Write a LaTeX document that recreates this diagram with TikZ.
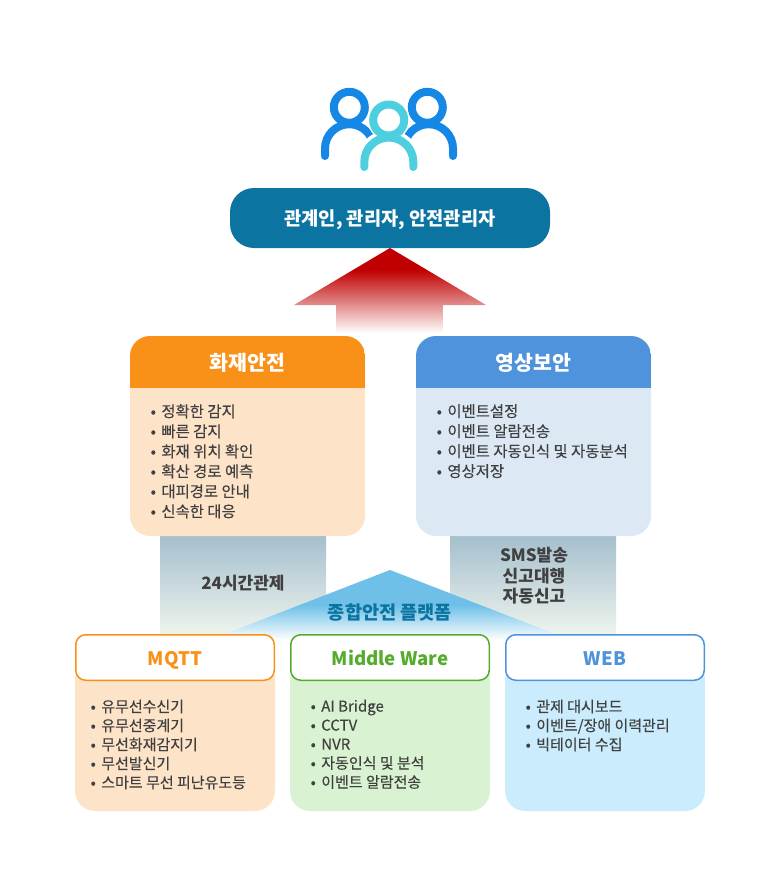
\documentclass[tikz,border=0pt]{standalone}
\usepackage{fontspec}
\setmainfont{Noto Sans CJK KR}
\newfontfamily\medfont[FakeBold=0.25]{Noto Sans CJK KR}
\usetikzlibrary{calc}
\definecolor{ink}{HTML}{404040}
\definecolor{blueA}{HTML}{1488E4}
\definecolor{cyanA}{HTML}{4DCFE0}
\definecolor{teal}{HTML}{0B74A0}
\definecolor{orangeH}{HTML}{F99119}
\definecolor{blueH}{HTML}{4E93DB}
\definecolor{greenH}{HTML}{55AB2B}
\definecolor{peach}{HTML}{FDE3C8}
\definecolor{pale}{HTML}{DCE9F5}
\definecolor{mint}{HTML}{D9F2D2}
\definecolor{sky}{HTML}{CBECFD}
\definecolor{redTop}{HTML}{C00000}
\definecolor{greyTop}{HTML}{A5BFCD}
\definecolor{greyEnd}{HTML}{EFF5EE}
\definecolor{skyTop}{HTML}{6EC0E8}
\pgfdeclareverticalshading{greyup}{100bp}{color(0bp)=(greyEnd);color(25bp)=(greyEnd);color(75bp)=(greyTop);color(100bp)=(greyTop)}
\tikzset{
  listtext/.style={font=\fontsize{15.4}{20}\selectfont\medfont,text=ink,anchor=north west,align=left,inner sep=0pt},
  listtight/.style={listtext,font=\fontsize{15}{19}\selectfont\medfont},
  headtext/.style={font=\fontsize{20.5}{24}\selectfont\bfseries,text=white},
  subhead/.style={font=\fontsize{18.6}{22}\selectfont\bfseries,anchor=base,inner sep=0pt},
  linktext/.style={font=\fontsize{17}{20.5}\selectfont\bfseries,text=ink,align=center},
  tabbox/.style={fill=white,draw=#1,line width=1.5pt,rounded corners=10pt,minimum width=198.5pt,minimum height=45.5pt,inner sep=0pt},
  personA/.style={blueA,line width=8pt,line cap=round},
  personB/.style={cyanA,line width=8pt,line cap=round}
}
\newcommand{\li}[1]{\textbullet\hspace{5.5pt}#1}
\begin{document}
\begin{tikzpicture}[x=1pt,y=-1pt]
\useasboundingbox (0,0) rectangle (780,870);
% connector bands
\fill[shading=greyup] (160,536) rectangle (326,636);
\fill[shading=greyup] (450,536) rectangle (616,636);
% up arrow: head, fading from dark red
\foreach \yy in {248,...,304}{
  \pgfmathsetmacro{\yb}{min(\yy+1.3,305)}
  \pgfmathsetmacro{\wa}{(\yy-248)*96/57}
  \pgfmathsetmacro{\wb}{(\yb-248)*96/57}
  \pgfmathsetmacro{\pc}{max(0,min(100,(333-\yy)/63*100))}
  \fill[redTop!\pc!white] (390-\wa,\yy) -- (390+\wa,\yy) -- (390+\wb,\yb) -- (390-\wb,\yb) -- cycle;
}
% up arrow: shaft
\foreach \yy in {305,...,333}{
  \pgfmathsetmacro{\pc}{max(0,min(100,(333-\yy)/63*100))}
  \fill[redTop!\pc!white] (336,\yy) rectangle (443,\yy+1.3);
}
% platform triangle
\foreach \yy in {570,...,641}{
  \pgfmathsetmacro{\wa}{(\yy-570)*2.58}
  \pgfmathsetmacro{\wb}{(\yy+1.3-570)*2.58}
  \pgfmathsetmacro{\pc}{max(0,min(100,(640-\yy)/35*100))}
  \fill[skyTop!\pc!white] (390-\wa,\yy) -- (390+\wa,\yy) -- (390+\wb,\yy+1.3) -- (390-\wb,\yy+1.3) -- cycle;
}
% icon
\draw[personA] (325,156) -- (325,148.5) arc[start angle=180,end angle=360,radius=24.3];
\draw[personA] (453,156) -- (453,148.5) arc[start angle=360,end angle=180,radius=24.3];
\draw[personA] (349.3,107.3) circle[radius=15.5];
\draw[personA] (427.3,107.3) circle[radius=15.5];
\fill[white] (388.8,162) circle[radius=32];
\fill[white] (388.7,120) circle[radius=21];
\draw[personB] (388.7,120) circle[radius=15.5];
\draw[personB] (364.3,167) -- (364.3,162) arc[start angle=180,end angle=360,radius=24.5] -- (413.3,167);
% top pill
\node[fill=teal,rounded corners=24pt,minimum width=320pt,minimum height=60pt,inner sep=0pt] (top) at (390,218) {};
\node[font=\fontsize{18.7}{22}\selectfont\bfseries,text=white] (toptext) at (390,219.5) {관계인, 관리자, 안전관리자};
% fire card
\fill[peach,rounded corners=20pt] (130,336) rectangle (365,536);
\begin{scope}
\clip[rounded corners=20pt] (130,336) rectangle (365,536);
\fill[orangeH] (130,336) rectangle (365,388);
\end{scope}
\node[headtext] (fire) at (247.5,363) {화재안전};
\node[listtext] (firelist) at (150.5,404) {\li{정확한 감지}\\\li{빠른 감지}\\\li{화재 위치 확인}\\\li{확산 경로 예측}\\\li{대피경로 안내}\\\li{신속한 대응}};
% video card
\fill[pale,rounded corners=20pt] (416,336) rectangle (651,536);
\begin{scope}
\clip[rounded corners=20pt] (416,336) rectangle (651,536);
\fill[blueH] (416,336) rectangle (651,388);
\end{scope}
\node[headtext] (video) at (533.5,363) {영상보안};
\node[listtext] (videolist) at (436.5,404) {\li{이벤트설정}\\\li{이벤트 알람전송}\\\li{이벤트 자동인식 및 자동분석}\\\li{영상저장}};
% link labels
\node[linktext] (l24) at (243,583) {24시간관제};
\node[linktext] (lsms) at (534,576) {SMS발송\\신고대행\\자동신고};
\node[font=\fontsize{18.6}{22}\selectfont\bfseries,text=teal] (plat) at (390,612) {종합안전 플랫폼};
% bottom cards
\fill[peach,rounded corners=20pt] (75,660) rectangle (275,811);
\fill[mint,rounded corners=20pt] (290,660) rectangle (490,811);
\fill[sky,rounded corners=20pt] (505,660) rectangle (705,811);
\node[tabbox=orangeH] (mqtt) at (175,657.5) {};
\node[tabbox=greenH] (mw) at (390,657.5) {};
\node[tabbox=blueH] (web) at (605,657.5) {};
\node[subhead,text=orangeH] (mqttt) at (175,665) {MQTT};
\node[subhead,text=greenH] (mwt) at (390,665) {Middle Ware};
\node[subhead,text=blueH] (webt) at (605,665) {WEB};
\node[listtight] (l1) at (90.5,699.5) {\li{유무선수신기}\\\li{유무선중계기}\\\li{무선화재감지기}\\\li{무선발신기}\\\li{스마트 무선 피난유도등}};
\node[listtight] (l2) at (310.5,699.5) {\li{AI Bridge}\\\li{CCTV}\\\li{NVR}\\\li{자동인식 및 분석}\\\li{이벤트 알람전송}};
\node[listtight] (l3) at (525.5,699.5) {\li{관제 대시보드}\\\li{이벤트/장애 이력관리}\\\li{빅테이터 수집}};
\end{tikzpicture}
\end{document}
